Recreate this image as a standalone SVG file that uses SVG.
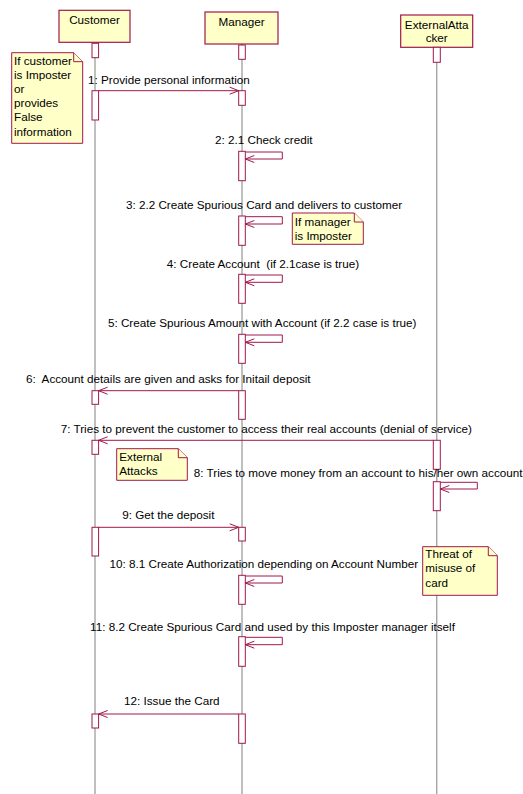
<svg xmlns="http://www.w3.org/2000/svg" width="523" height="794" viewBox="0 0 523 794">
<style>
.bg{fill:#ffffff}
.head{fill:#ffffc8;stroke:#a0184c;stroke-width:1.2}
.life{stroke:#808080;stroke-width:1;fill:none}
.act{fill:#ffffff;stroke:#a0184c;stroke-width:1}
.msg{stroke:#a0184c;stroke-width:1;fill:none}
.note{fill:#ffffc8;stroke:#a0184c;stroke-width:1}
text{font-family:"Liberation Sans",Arial,sans-serif;font-size:11.7px;fill:#000000}
.c{text-anchor:middle}
</style>
<defs>
<marker id="open" markerUnits="userSpaceOnUse" markerWidth="12" markerHeight="10" refX="0" refY="0" viewBox="-10 -5 12 10" orient="auto" overflow="visible">
<path d="M-9,-3.5 L0,0 L-9,3.5" fill="none" stroke="#a0184c" stroke-width="1"/>
</marker>
</defs>
<rect class="bg" x="0" y="0" width="523" height="794"/>

<g id="lifelines">
<line class="life" x1="95" y1="42" x2="95" y2="794"/>
<line class="life" x1="242" y1="44" x2="242" y2="794"/>
<line class="life" x1="436.8" y1="47" x2="436.8" y2="794"/>
</g>

<g id="customer">
<rect class="head" x="59" y="10.3" width="71" height="32"/>
<text class="c" x="94.5" y="24.3">Customer</text>
<rect class="act" x="92" y="43.3" width="6.6" height="14.4"/>
<rect class="act" x="92" y="90.7" width="6.6" height="29.3"/>
<rect class="act" x="92" y="390.7" width="6.6" height="13.6"/>
<rect class="act" x="92" y="440.3" width="6.6" height="14"/>
<rect class="act" x="92" y="527.3" width="6.6" height="28.7"/>
<rect class="act" x="92" y="714" width="6.6" height="14"/>
</g>

<g id="manager">
<rect class="head" x="205" y="12" width="73" height="32"/>
<text class="c" x="241.5" y="26">Manager</text>
<rect class="act" x="238.7" y="45" width="6.6" height="14.3"/>
<rect class="act" x="238.7" y="90.7" width="6.6" height="14.6"/>
<rect class="act" x="238.7" y="151.3" width="6.6" height="29.4"/>
<rect class="act" x="238.7" y="216" width="6.6" height="29.3"/>
<rect class="act" x="238.7" y="274.3" width="6.6" height="29"/>
<rect class="act" x="238.7" y="334.3" width="6.6" height="29"/>
<rect class="act" x="238.7" y="390.7" width="6.6" height="28.6"/>
<rect class="act" x="238.7" y="527.3" width="6.6" height="13.7"/>
<rect class="act" x="238.7" y="575.3" width="6.6" height="29"/>
<rect class="act" x="238.7" y="636.7" width="6.6" height="29.6"/>
<rect class="act" x="238.7" y="714" width="6.6" height="29.3"/>
</g>

<g id="externalattacker">
<rect class="head" x="400.7" y="15" width="72" height="32.3"/>
<text class="c" x="436.7" y="29.3">ExternalAtta</text>
<text class="c" x="436.7" y="42">cker</text>
<rect class="act" x="433.3" y="47.3" width="7" height="15"/>
<rect class="act" x="433.3" y="440.3" width="7" height="29"/>
<rect class="act" x="433.3" y="481.7" width="7" height="29"/>
</g>

<g id="note-customer">
<path class="note" d="M11.7,52.7 H73.7 L82.7,61.7 V143.3 H11.7 Z"/>
<path class="note" d="M73.7,52.7 V61.7 H82.7" fill="none"/>
<text x="14" y="65.3">If customer</text>
<text x="14" y="79.3">is Imposter</text>
<text x="14" y="93.3">or</text>
<text x="14" y="107.3">provides</text>
<text x="14" y="121.3">False</text>
<text x="14" y="136">information</text>
</g>

<g id="note-manager">
<path class="note" d="M292.3,213 H354.3 L363.3,222 V244.3 H292.3 Z"/>
<path class="note" d="M354.3,213 V222 H363.3" fill="none"/>
<text x="294.7" y="225.7">If manager</text>
<text x="294.7" y="239.7">is Imposter</text>
</g>

<g id="note-external">
<path class="note" d="M116.7,448.7 H178.3 L187.3,457.7 V480.3 H116.7 Z"/>
<path class="note" d="M178.3,448.7 V457.7 H187.3" fill="none"/>
<text x="119.3" y="461.3">External</text>
<text x="119.3" y="475.3">Attacks</text>
</g>

<g id="note-threat">
<path class="note" d="M422.7,546.7 H488.3 L497.3,555.7 V595.3 H422.7 Z"/>
<path class="note" d="M488.3,546.7 V555.7 H497.3" fill="none"/>
<text x="425.3" y="557.7">Threat of</text>
<text x="425.3" y="572.3">misuse of</text>
<text x="425.3" y="586.7">card</text>
</g>

<g id="connectors">
<line class="msg" x1="98.6" y1="90.7" x2="238.7" y2="90.7" marker-end="url(#open)"/>
<polyline class="msg" points="245.3,152 282.3,152 282.3,159 245.3,159" marker-end="url(#open)"/>
<polyline class="msg" points="245.3,216.7 282.3,216.7 282.3,224 245.3,224" marker-end="url(#open)"/>
<polyline class="msg" points="245.3,275 282.3,275 282.3,282.3 245.3,282.3" marker-end="url(#open)"/>
<polyline class="msg" points="245.3,335 282.3,335 282.3,342.3 245.3,342.3" marker-end="url(#open)"/>
<line class="msg" x1="238.7" y1="390.7" x2="98.6" y2="390.7" marker-end="url(#open)"/>
<line class="msg" x1="433.3" y1="440.3" x2="98.6" y2="440.3" marker-end="url(#open)"/>
<polyline class="msg" points="440.3,482.3 477.3,482.3 477.3,489 440.3,489" marker-end="url(#open)"/>
<line class="msg" x1="98.6" y1="527.3" x2="238.7" y2="527.3" marker-end="url(#open)"/>
<polyline class="msg" points="245.3,576 282.3,576 282.3,583 245.3,583" marker-end="url(#open)"/>
<polyline class="msg" points="245.3,637.3 282.3,637.3 282.3,644.7 245.3,644.7" marker-end="url(#open)"/>
<line class="msg" x1="238.7" y1="714" x2="98.6" y2="714" marker-end="url(#open)"/>
</g>

<g id="labels">
<text class="c" x="168.9" y="84">1: Provide personal information</text>
<text class="c" x="263.8" y="144">2: 2.1 Check credit</text>
<text class="c" x="264" y="209.3">3: 2.2 Create Spurious Card and delivers to customer</text>
<text class="c" x="263" y="267.7" xml:space="preserve">4: Create Account  (if 2.1case is true)</text>
<text class="c" x="262.2" y="327.3">5: Create Spurious Amount with Account (if 2.2 case is true)</text>
<text class="c" x="168.3" y="382.7" xml:space="preserve">6:  Account details are given and asks for Initail deposit</text>
<text class="c" x="266.3" y="433.3">7: Tries to prevent the customer to access their real accounts (denial of service)</text>
<text x="522.5" y="476.7" text-anchor="end">8: Tries to move money from an account to his/her own account</text>
<text class="c" x="168.3" y="519.3">9: Get the deposit</text>
<text class="c" x="263.8" y="568.3">10: 8.1 Create Authorization depending on Account Number</text>
<text class="c" x="272.5" y="631">11: 8.2 Create Spurious Card and used by this Imposter manager itself</text>
<text class="c" x="171.8" y="705">12: Issue the Card</text>
</g>
</svg>
